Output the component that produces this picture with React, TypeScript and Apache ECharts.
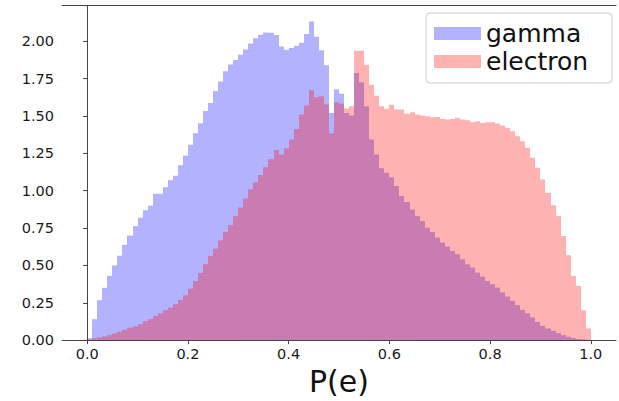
import React, { useEffect, useRef } from "react";
import * as echarts from "echarts";

// Histogram bins: 100 bins of width 0.01 covering P(e) in [0, 1]
const binStart = 0;
const binWidth = 0.01;

// Normalised density per bin
const gammaDensity = [
  0.013, 0.14, 0.267, 0.35, 0.43, 0.5, 0.565, 0.638, 0.7, 0.763,
  0.82, 0.87, 0.9, 0.98, 0.98, 1.024, 1.07, 1.1, 1.17, 1.236,
  1.307, 1.385, 1.452, 1.534, 1.588, 1.668, 1.732, 1.8, 1.845, 1.875,
  1.91, 1.945, 1.985, 2.02, 2.045, 2.06, 2.058, 2.042, 1.966, 1.944,
  1.955, 1.97, 1.99, 2.05, 2.133, 2.03, 1.94, 1.84, 1.52, 1.68,
  1.65, 1.521, 1.503, 1.788, 1.726, 1.565, 1.343, 1.242, 1.15, 1.12,
  1.09, 1.031, 0.964, 0.925, 0.875, 0.83, 0.797, 0.753, 0.723, 0.686,
  0.653, 0.626, 0.597, 0.575, 0.541, 0.508, 0.486, 0.452, 0.425, 0.396,
  0.374, 0.352, 0.319, 0.292, 0.263, 0.234, 0.202, 0.18, 0.152, 0.122,
  0.096, 0.078, 0.062, 0.047, 0.033, 0.022, 0.013, 0.007, 0.004, 0.002,
];

const electronDensity = [
  0.004, 0.012, 0.018, 0.025, 0.033, 0.044, 0.056, 0.069, 0.083, 0.092,
  0.107, 0.127, 0.14, 0.162, 0.18, 0.2, 0.218, 0.24, 0.27, 0.3,
  0.345, 0.395, 0.45, 0.508, 0.563, 0.612, 0.668, 0.723, 0.77, 0.83,
  0.888, 0.948, 1.01, 1.055, 1.106, 1.157, 1.21, 1.273, 1.242, 1.284,
  1.343, 1.414, 1.51, 1.57, 1.672, 1.625, 1.632, 1.578, 1.385, 1.593,
  1.582, 1.55, 1.565, 1.937, 1.937, 1.844, 1.71, 1.635, 1.565, 1.548,
  1.576, 1.543, 1.543, 1.516, 1.525, 1.51, 1.503, 1.499, 1.492, 1.494,
  1.481, 1.477, 1.481, 1.488, 1.477, 1.472, 1.458, 1.465, 1.454, 1.458,
  1.458, 1.45, 1.436, 1.42, 1.398, 1.365, 1.331, 1.287, 1.22, 1.154,
  1.075, 0.987, 0.902, 0.83, 0.697, 0.568, 0.43, 0.363, 0.2, 0.078,
];

const seriesNames = ["gamma", "electron"];
const seriesColors = ["rgba(0,0,255,0.3)", "rgba(255,0,0,0.3)"];

const xTickValues = [0, 0.2, 0.4, 0.6, 0.8, 1.0];
const yTickValues = [0, 0.25, 0.5, 0.75, 1.0, 1.25, 1.5, 1.75, 2.0];

const FONT = "DejaVu Sans";

function toBins(values: number[]) {
  return values.map((v, i) => [binStart + i * binWidth, binStart + (i + 1) * binWidth, v]);
}

function histSeries(name: string, color: string, values: number[]) {
  return {
    type: "custom",
    name,
    itemStyle: { color },
    encode: { x: [0, 1], y: 2 },
    data: toBins(values),
    renderItem: (_params: any, api: any) => {
      const lo = api.value(0);
      const hi = api.value(1);
      const h = api.value(2);
      const base = api.coord([lo, 0]);
      const top = api.coord([hi, h]);
      // snap the bin edges to whole pixels so neighbouring bars do not leave seams
      const x0 = Math.round(base[0]);
      const x1 = Math.round(top[0]);
      return {
        type: "rect",
        shape: { x: x0, y: top[1], width: x1 - x0, height: base[1] - top[1] },
        style: { fill: color },
      };
    },
  };
}

export default function App() {
  const ref = useRef<HTMLDivElement>(null);

  useEffect(() => {
    if (!ref.current) return;
    const chart = echarts.init(ref.current, undefined, { renderer: "svg" });
    const spine = { show: true, lineStyle: { color: "#444", width: 1 } };
    chart.setOption({
      animation: false,
      backgroundColor: "#fff",
      grid: { left: 62, right: 3, top: 5.5, bottom: 60, containLabel: false },
      xAxis: [
        {
          type: "value",
          min: -0.05,
          max: 1.05,
          position: "bottom",
          axisLine: spine,
          axisTick: { show: true, customValues: xTickValues, length: 4, lineStyle: { color: "#444" } },
          axisLabel: {
            customValues: xTickValues,
            formatter: (v: number) => v.toFixed(1),
            fontFamily: FONT,
            fontSize: 14.5,
            color: "#1a1a1a",
            margin: 6,
          },
          splitLine: { show: false },
          name: "P(e)",
          nameLocation: "middle",
          nameGap: 24,
          nameTextStyle: { fontFamily: FONT, fontSize: 30, color: "#111" },
        },
        {
          type: "value",
          min: -0.05,
          max: 1.05,
          position: "top",
          axisLine: spine,
          axisTick: { show: false },
          axisLabel: { show: false },
          splitLine: { show: false },
        },
      ],
      yAxis: {
        type: "value",
        min: 0,
        max: 2.24,
        axisLine: spine,
        axisTick: { show: true, customValues: yTickValues, length: 4, lineStyle: { color: "#444" } },
        axisLabel: {
          customValues: yTickValues,
          formatter: (v: number) => v.toFixed(2),
          fontFamily: FONT,
          fontSize: 14.5,
          color: "#1a1a1a",
          margin: 8,
        },
        splitLine: { show: false },
      },
      legend: {
        orient: "vertical",
        left: 426,
        top: 13,
        icon: "rect",
        itemWidth: 47,
        itemHeight: 13,
        itemGap: 3,
        padding: [8, 24, 9, 8],
        backgroundColor: "#fff",
        borderColor: "#ccc",
        borderWidth: 1,
        borderRadius: 4,
        textStyle: { fontFamily: FONT, fontSize: 25, color: "#111" },
        data: seriesNames.map((n, i) => ({ name: n, itemStyle: { color: seriesColors[i] } })),
      },
      series: [
        histSeries(seriesNames[0], seriesColors[0], gammaDensity),
        histSeries(seriesNames[1], seriesColors[1], electronDensity),
      ],
    });
    return () => chart.dispose();
  }, []);

  return (
    <div
      ref={ref}
      style={{ position: "absolute", left: 0, top: 0, width: 619, height: 401, background: "#fff" }}
    />
  );
}
